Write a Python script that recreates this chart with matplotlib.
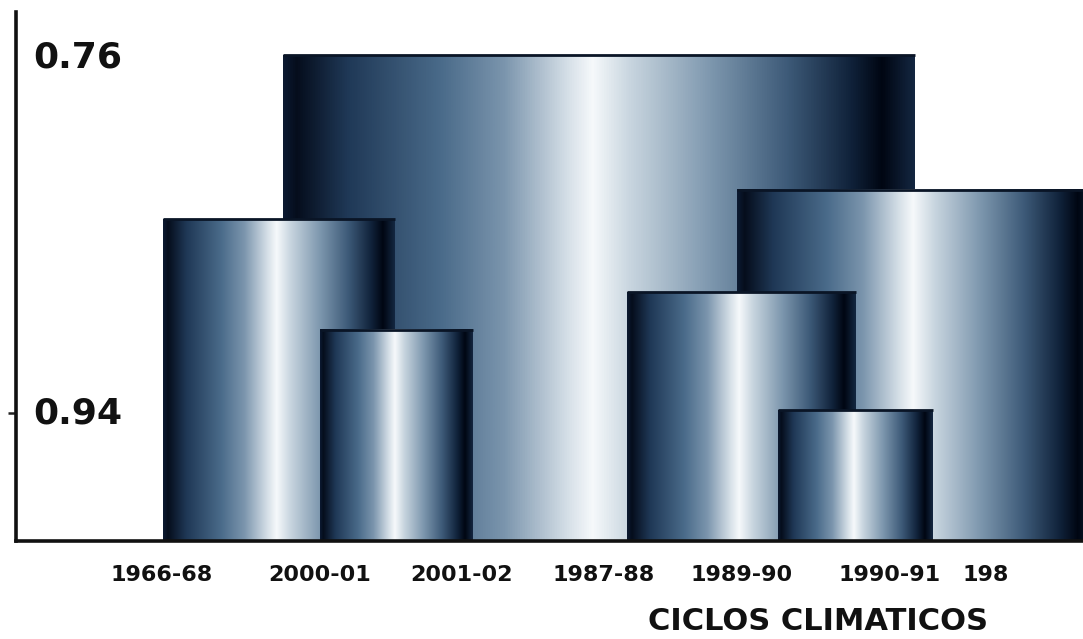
import numpy as np
import matplotlib
matplotlib.use("Agg")
import matplotlib.pyplot as plt
from matplotlib.colors import LinearSegmentedColormap

# ---- data ----
leaf_labels = ["1966-68", "2000-01", "2001-02", "1987-88", "1989-90", "1990-91", "198"]
leaf_pos = [1.465, 3.045, 4.465, 5.885, 7.265, 8.745, 9.475]
ytick_values = [0.76, 0.94]
ytick_labels = ["0.76", "0.94"]
# dendrogram clusters drawn as cylinders: left, right, joining level
cluster_left = [2.675, 7.215, 1.475, 6.115, 3.045, 7.625]
cluster_right = [8.995, 10.80, 3.795, 8.405, 4.575, 9.175]
cluster_level = [0.759, 0.827, 0.842, 0.879, 0.898, 0.9385]
baseline = 1.0047
xlabel = "CICLOS CLIMATICOS"

# ---- figure ----
W, H = 1083, 639
fig = plt.figure(figsize=(W / 100, H / 100), dpi=100)
ax = fig.add_axes([15.5 / W, (H - 541) / H, 1 - 15.5 / W, (541 - 12) / H])

cmap = LinearSegmentedColormap.from_list("cyl", [
    (0.00, "#0b1930"), (0.02, "#050d1c"), (0.10, "#1f3856"),
    (0.25, "#4a6b8a"), (0.35, "#7b95ad"), (0.45, "#d5dfe7"),
    (0.49, "#f6f9fb"), (0.55, "#c8d5df"), (0.68, "#7c96ad"),
    (0.80, "#3d5a78"), (0.90, "#10223a"), (0.95, "#000612"),
    (1.00, "#132640")])
grad = np.linspace(0, 1, 512).reshape(1, -1)

for i, (l, r, lev) in enumerate(zip(cluster_left, cluster_right, cluster_level)):
    ax.imshow(grad, cmap=cmap, extent=(l, r, baseline, lev), aspect="auto",
              interpolation="bilinear", zorder=2 + i)
    ax.plot([l, r], [lev, lev], color="#0a1526", lw=2.0, zorder=2 + i,
            solid_capstyle="butt")

ax.set_xlim(0, 10.675)
ax.set_ylim(baseline, 0.7372)

for s in ["top", "right"]:
    ax.spines[s].set_visible(False)
for s in ["left", "bottom"]:
    ax.spines[s].set_linewidth(2.6)
    ax.spines[s].set_color("#111111")
    ax.spines[s].set_zorder(20)

ax.set_yticks([ytick_values[1]])
ax.set_yticklabels([])
ax.tick_params(axis="y", direction="out", length=6, width=1.8, color="#222222")
ax.set_xticks([])

for v, t in zip(ytick_values, ytick_labels):
    ax.text(0.175, v, t, ha="left", va="center", fontsize=26,
            fontweight="bold", color="#111111", zorder=30)

for p, t in zip(leaf_pos, leaf_labels):
    ha = "left" if t == "198" else "center"
    ax.text(p, -0.065, t, transform=ax.get_xaxis_transform(), ha=ha,
            va="center", fontsize=16, fontweight="bold", color="#111111",
            clip_on=False)

fig.text(818 / W, 1 - 621 / H, xlabel, ha="center", va="center",
         fontsize=22, fontweight="bold", color="#111111")

fig.savefig("out.png", dpi=100, facecolor="white")
